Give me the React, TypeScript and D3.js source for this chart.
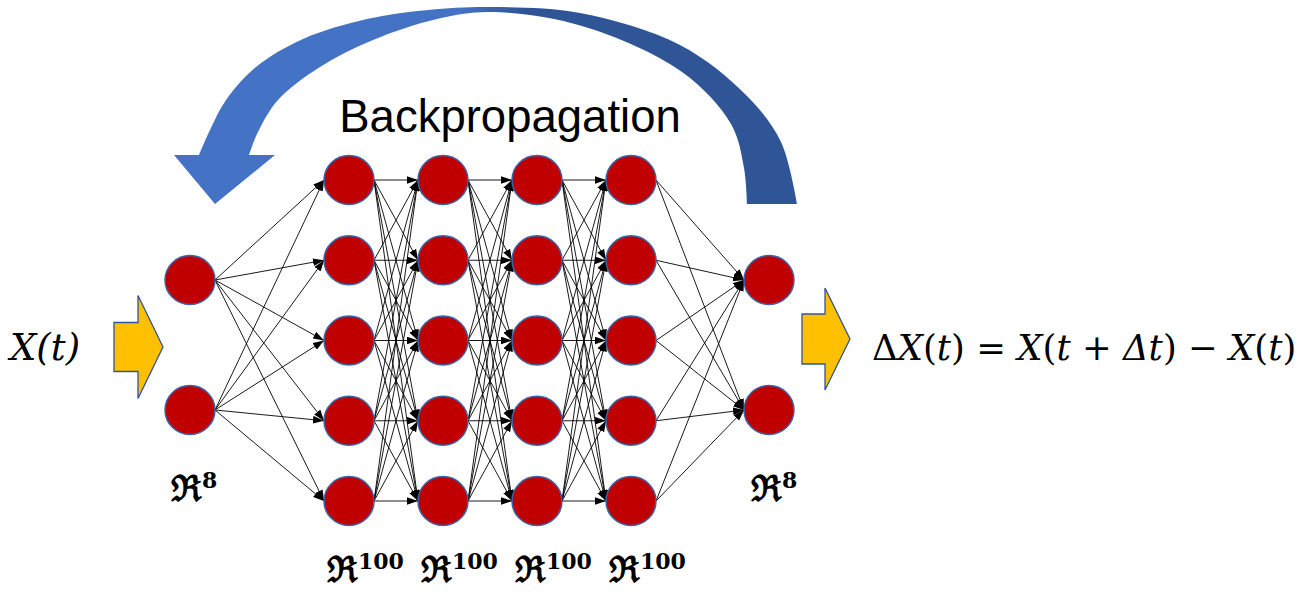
import React from "react";
import * as d3 from "d3";

// ---------- data ----------
const layerNames = ["input", "hidden1", "hidden2", "hidden3", "hidden4", "output"];
const layerSizes = [2, 5, 5, 5, 5, 2];
const layerDims = ["8", "100", "100", "100", "100", "8"];
const titleText = "Backpropagation";
const inputText = "X(t)";

// ---------- layout ----------
const W = 1305;
const H = 592;
const layerX = d3.scaleOrdinal<string, number>().domain(layerNames).range([190, 349, 443, 537, 631, 769]);
const hiddenRow = d3.scalePoint<number>().domain([0, 1, 2, 3, 4]).range([180, 501]);
const ioRow = d3.scalePoint<number>().domain([0, 1]).range([280, 410]);
const RX = 25;
const RY = 24.5;

const rowY = (li: number, i: number) => (layerSizes[li] === 5 ? hiddenRow(i)! : ioRow(i)!);

// curved arrow outline (outer edge left->right, inner edge right->left, head)
const arcOuter: [number, number][] = [
  [199, 155], [210, 130], [226, 100], [256, 67], [303, 39], [367, 19], [428, 10], [490, 7],
  [580, 13], [680, 45], [747, 96], [781, 142], [797, 204],
];
const arcInner: [number, number][] = [
  [747, 204], [744, 168], [731, 124], [682, 72], [582, 26], [490, 12], [437, 19],
  [373, 40], [320, 67], [278, 100], [258, 132], [249, 155],
];
const arcHead: [number, number][] = [[275, 155], [215, 204], [174, 155]];

export default function App() {
  const smooth = d3.line().curve(d3.curveCatmullRom.alpha(0.5));
  const outerD = smooth(arcOuter)!;
  const innerD = smooth(arcInner)!.replace(/^M/, "L");
  const headD = arcHead.map((p) => `L${p[0]},${p[1]}`).join("");
  const arrowPath = `${outerD}${innerD}${headD}Z`;

  const nodes = layerNames.map((name, li) =>
    d3.range(layerSizes[li]).map((i) => ({ x: layerX(name), y: rowY(li, i) }))
  );
  const edges: { x1: number; y1: number; x2: number; y2: number }[] = [];
  for (let li = 0; li < layerNames.length - 1; li++) {
    nodes[li].forEach((a) =>
      nodes[li + 1].forEach((b) => {
        edges.push({ x1: a.x + RX, y1: a.y, x2: b.x - RX, y2: b.y });
      })
    );
  }

  const blockArrow = (x0: number, x1: number, xt: number, yc: number, bh: number, hh: number) =>
    `M${x0},${yc - bh / 2}L${x1},${yc - bh / 2}L${x1},${yc - hh / 2}L${xt},${yc}L${x1},${yc + hh / 2}L${x1},${yc + bh / 2}L${x0},${yc + bh / 2}Z`;

  const mathFont = "'DejaVu Serif', serif";

  const dimLabel = (li: number, x: number, y: number, key: string) => (
    <text key={key} x={x} y={y} fontFamily={mathFont} fontWeight="bold" fontSize={36} fill="#000">
      ℜ
      <tspan fontSize={22} dy={-13}>{layerDims[li]}</tspan>
    </text>
  );

  return (
    <svg width={W} height={H} style={{ position: "absolute", left: 0, top: 0, background: "#fff" }}>
      <defs>
        <linearGradient id="arcGrad" x1="0" x2="1" y1="0" y2="0">
          <stop offset="0" stopColor="#4472C4" />
          <stop offset="0.46" stopColor="#4472C4" />
          <stop offset="0.56" stopColor="#2F5597" />
          <stop offset="1" stopColor="#2F5597" />
        </linearGradient>
        <marker id="ah" viewBox="0 0 10 7" refX="10" refY="3.5" markerWidth="11" markerHeight="8"
          markerUnits="userSpaceOnUse" orient="auto">
          <path d="M0,0L10,3.5L0,7Z" fill="#000" />
        </marker>
      </defs>

      {/* backpropagation arrow */}
      <path d={arrowPath} fill="url(#arcGrad)" stroke="none" />
      <text x={510} y={132} textAnchor="middle" fontFamily="'Liberation Sans', Arial, sans-serif" fontSize={45.5} fill="#000">
        {titleText}
      </text>

      {/* edges */}
      <g stroke="#000" strokeWidth={0.9}>
        {edges.map((e, i) => (
          <line key={i} x1={e.x1} y1={e.y1} x2={e.x2} y2={e.y2} markerEnd="url(#ah)" />
        ))}
      </g>

      {/* nodes */}
      {nodes.map((layer, li) =>
        layer.map((n, i) => (
          <ellipse key={`${li}-${i}`} cx={n.x} cy={n.y} rx={RX} ry={RY} fill="#C00000" stroke="#3B64A8" strokeWidth={1.5} />
        ))
      )}

      {/* input / output block arrows */}
      <path d={blockArrow(114, 138, 163, 347, 49, 103)} fill="#FFC000" stroke="#2F5597" strokeWidth={1.3} />
      <path d={blockArrow(802, 825, 850, 339, 50, 102)} fill="#FFC000" stroke="#2F5597" strokeWidth={1.3} />

      <text x={10} y={360} fontFamily={mathFont} fontStyle="italic" fontSize={37} fill="#000">
        {inputText}
      </text>
      <text x={872} y={360} fontFamily={mathFont} fontSize={35.5} fill="#000">
        <tspan>Δ</tspan>
        <tspan fontStyle="italic">X</tspan>
        <tspan>(</tspan>
        <tspan fontStyle="italic">t</tspan>
        <tspan>) = </tspan>
        <tspan fontStyle="italic">X</tspan>
        <tspan>(</tspan>
        <tspan fontStyle="italic">t</tspan>
        <tspan> + </tspan>
        <tspan fontStyle="italic">Δt</tspan>
        <tspan>) − </tspan>
        <tspan fontStyle="italic">X</tspan>
        <tspan>(</tspan>
        <tspan fontStyle="italic">t</tspan>
        <tspan>)</tspan>
      </text>

      {/* dimension labels */}
      {dimLabel(0, 171, 501, "d0")}
      {[1, 2, 3, 4].map((li) => dimLabel(li, layerX(layerNames[li]) - 22, 582, `d${li}`))}
      {dimLabel(5, 751, 501, "d5")}
    </svg>
  );
}
